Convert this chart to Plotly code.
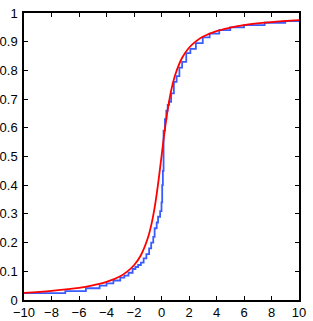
import plotly.graph_objects as go

# Fitted CDF (red)
red_x = [-10, -8, -6, -5, -4, -3, -2.5, -2, -1.5, -1, -0.75, -0.5, -0.25, 0,
         0.25, 0.5, 0.75, 1, 1.5, 2, 2.5, 3, 4, 5, 6, 8, 10]
red_y = [0.025, 0.032, 0.042, 0.051, 0.063, 0.083, 0.099, 0.121, 0.156, 0.215,
         0.260, 0.322, 0.404, 0.500, 0.596, 0.678, 0.740, 0.785, 0.844, 0.879,
         0.901, 0.917, 0.937, 0.949, 0.958, 0.968, 0.975]

blue_x = [-10, -7, -5.5, -4.5, -4, -3.5, -3, -2.7, -2.4, -2.1, -1.9, -1.7, -1.5,
          -1.3, -1.1, -0.9, -0.75, -0.6, -0.5, -0.35, -0.25, -0.1, 0.0,
          0.05, 0.1, 0.15, 0.25, 0.35, 0.45, 0.55, 0.7, 0.9, 1.1, 1.3, 1.5, 1.8,
          2.1, 2.5, 3.0, 3.5, 4.2, 5.0, 6.0, 7.5, 9.0, 10]
blue_y = [0.024, 0.031, 0.041, 0.05, 0.058, 0.068, 0.078, 0.085, 0.095, 0.108,
          0.115, 0.122, 0.13, 0.145, 0.16, 0.18, 0.20, 0.22, 0.25, 0.27, 0.29,
          0.31, 0.34, 0.40, 0.45, 0.59, 0.63, 0.66, 0.68, 0.69, 0.72, 0.76, 0.78,
          0.81, 0.83, 0.86, 0.875, 0.895, 0.915, 0.928, 0.94, 0.95, 0.958,
          0.966, 0.972, 0.975]

x_ticks = [-10, -8, -6, -4, -2, 0, 2, 4, 6, 8, 10]
y_ticks = [0, 0.1, 0.2, 0.3, 0.4, 0.5, 0.6, 0.7, 0.8, 0.9, 1]
y_labels = ["0", "0.1", "0.2", "0.3", "0.4", "0.5", "0.6", "0.7", "0.8", "0.9", "1"]

fig = go.Figure()
fig.add_trace(go.Scatter(x=blue_x, y=blue_y, mode="lines", line_shape="hv",
                         line=dict(color="#3a5cff", width=1.8), showlegend=False))
fig.add_trace(go.Scatter(x=red_x, y=red_y, mode="lines", line_shape="spline",
                         line=dict(color="#ff0000", width=1.8), showlegend=False))

axis_common = dict(showline=True, linecolor="black", linewidth=1.5, mirror="ticks",
                   ticks="inside", ticklen=4, tickwidth=1, tickcolor="black",
                   showgrid=False, zeroline=False, automargin=False,
                   tickfont=dict(family="Liberation Sans, Arial, sans-serif", size=13, color="black"))

fig.update_xaxes(range=[-10, 10], tickvals=x_ticks, **axis_common)
fig.update_yaxes(range=[0, 1], tickvals=y_ticks, ticktext=y_labels, ticklabelstandoff=2,
                 **axis_common)

fig.update_layout(width=313, height=321, margin=dict(l=24, r=14, t=13, b=21),
                  plot_bgcolor="white", paper_bgcolor="white")

fig.write_html("out.html", config={"displayModeBar": False},
               post_script="document.body.style.margin='0';document.body.style.overflow='hidden';")
